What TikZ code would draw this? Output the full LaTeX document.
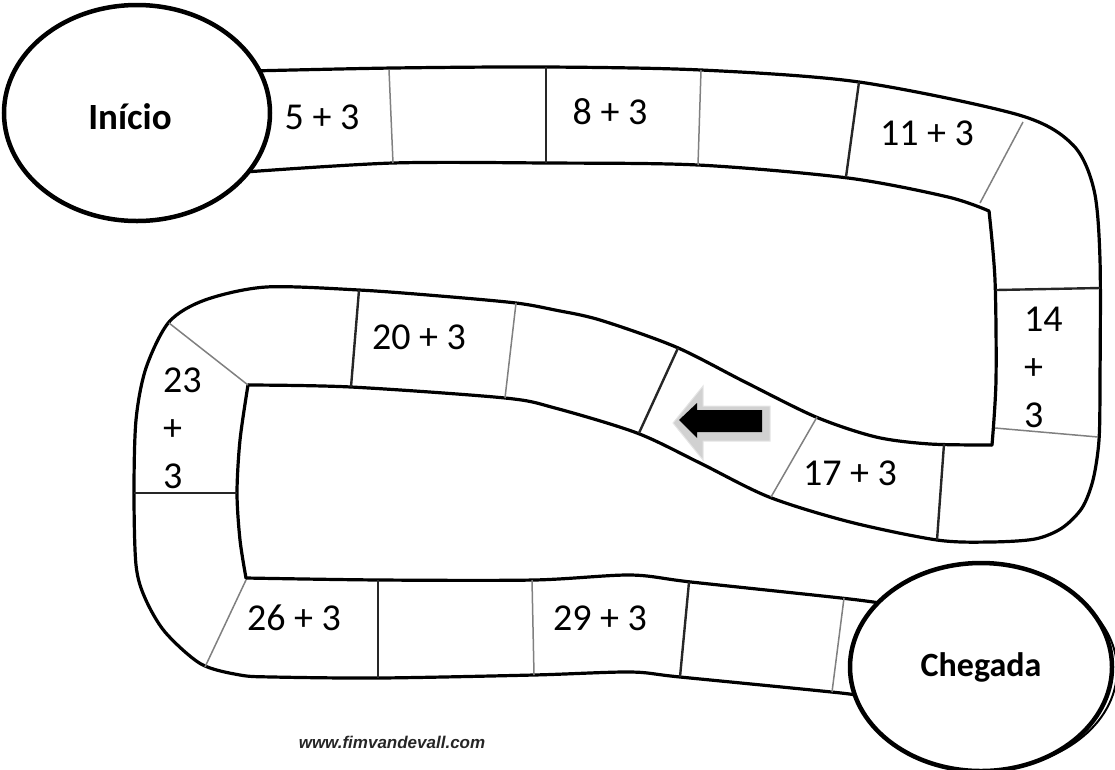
\documentclass[tikz,border=0pt]{standalone}
\usepackage{fontspec}
\setmainfont{Carlito}
\newfontfamily\markfont{Liberation Sans}
\usetikzlibrary{shapes.geometric}
\tikzset{
  track_line/.style={line width=3.2pt, black, line join=round, line cap=round},
  div_dark/.style={line width=2.4pt, black!85},
  div_light/.style={line width=1.5pt, black!50},
  goal_ellipse/.style={ellipse, draw=black, line width=4.5pt, fill=white, inner sep=0pt, font=\fontsize{37}{40}\selectfont\bfseries},
  cell_text/.style={inner sep=0pt, font=\fontsize{38}{48}\selectfont},
  stack_text/.style={cell_text, align=left, anchor=west},
  arrow_shadow/.style={fill=black!18, draw=black!10, line width=1pt},
  arrow_body/.style={fill=black},
  mark_text/.style={text=black!85, font=\markfont\fontsize{17}{17}\selectfont\bfseries\itshape}
}

\begin{document}
\begin{tikzpicture}[x=1pt, y=-1pt]
\useasboundingbox (0,0) rectangle (1115,769);

% Outer edge of the track
\draw[track_line] plot[smooth, tension=0.5] coordinates {(250,71) (393,68) (546,67) (701,70) (859,82) (1019,115) (1073,145) (1094,190) (1100,260) (1100,380) (1099,440) (1093,480) (1082,508) (1062,528) (1035,539) (990,542) (937,540) (850,522) (769,497) (700,463) (637,433) (555,408) (505,398) (351,387) (248,385)};
\draw[track_line] plot[smooth, tension=0.5] coordinates {(248,385) (240,440) (237,493) (240,540) (246,578)};
\draw[track_line] plot[smooth, tension=0.5] coordinates {(246,578) (380,580) (534,580) (630,575) (691,582) (841,598) (880,603)};

% Inner edge of the track
\draw[track_line] plot[smooth, tension=0.5] coordinates {(245,172) (393,163) (546,163) (698,165) (848,178) (948,197) (989,211)};
\draw[track_line] plot[smooth, tension=0.5] coordinates {(989,211) (995,280) (996,380) (992,445)};
\draw[track_line] plot[smooth, tension=0.5] coordinates {(992,445) (930,444) (876,437) (816,417) (745,382) (676,347) (600,320) (555,310) (516,303) (440,296) (359,290) (266,287) (205,300) (169,322) (146,368) (136,420) (134,493) (136,565) (145,598) (165,632) (201,664) (240,675) (273,677) (380,678) (534,675) (630,672) (680,677) (841,693) (855,696)};

% Cell borders
\draw[div_light] (389,70) -- (393,163);
\draw[div_dark]  (546,67) -- (546,163);
\draw[div_light] (701,70) -- (698,165);
\draw[div_dark]  (859,82) -- (846,177);
\draw[div_light] (1023,122) -- (980,203);
\draw[div_dark]  (996,290) -- (1100,288);
\draw[div_light] (995,428) -- (1098,437);
\draw[div_dark]  (944,444) -- (937,540);
\draw[div_light] (817,417) -- (771,497);
\draw[div_dark]  (678,348) -- (639,433);
\draw[div_light] (516,303) -- (505,398);
\draw[div_dark]  (359,290) -- (351,387);
\draw[div_light] (169,323) -- (248,385);
\draw[div_dark]  (134,493) -- (237,493);
\draw[div_light] (246,580) -- (205,667);
\draw[div_dark]  (378,580) -- (378,678);
\draw[div_light] (532,580) -- (534,675);
\draw[div_dark]  (689,582) -- (680,677);
\draw[div_light] (844,598) -- (832,692);

% Cell texts
\node (c5)  [cell_text] at (322,117) {5 + 3};
\node (c8)  [cell_text] at (610,112) {8 + 3};
\node (c11) [cell_text] at (927,133) {11 + 3};
\node (c14) [stack_text] at (1024,367) {14\\+\\3};
\node (c17) [cell_text] at (850,473) {17 + 3};
\node (c20) [cell_text] at (419,337) {20 + 3};
\node (c23) [stack_text] at (163,428) {23\\+\\3};
\node (c26) [cell_text] at (294,618) {26 + 3};
\node (c29) [cell_text] at (600,618) {29 + 3};

% Direction arrow
\fill[arrow_shadow] (673,423) -- (703,386) -- (703,406) -- (770,406) -- (770,441) -- (703,441) -- (703,460) -- cycle;
\fill[arrow_body] (679,420) -- (697,403) -- (697,410) -- (762,410) -- (762,432) -- (697,432) -- (697,438) -- cycle;

% Start and finish
\node (start) [goal_ellipse, minimum width=266pt, minimum height=216pt] at (137,113) {};
\node (start_text) [font=\fontsize{37}{40}\selectfont\bfseries] at (130,117) {Início};
\node (finish_shadow) [ellipse, draw=black, line width=2pt, minimum width=262pt, minimum height=198pt] at (986,670) {};
\node (finish) [goal_ellipse, minimum width=262pt, minimum height=208pt, font=\fontsize{34}{36}\selectfont\bfseries] at (981,667) {Chegada};

\node (site) [mark_text] at (392,742) {www.fimvandevall.com};
\end{tikzpicture}
\end{document}
